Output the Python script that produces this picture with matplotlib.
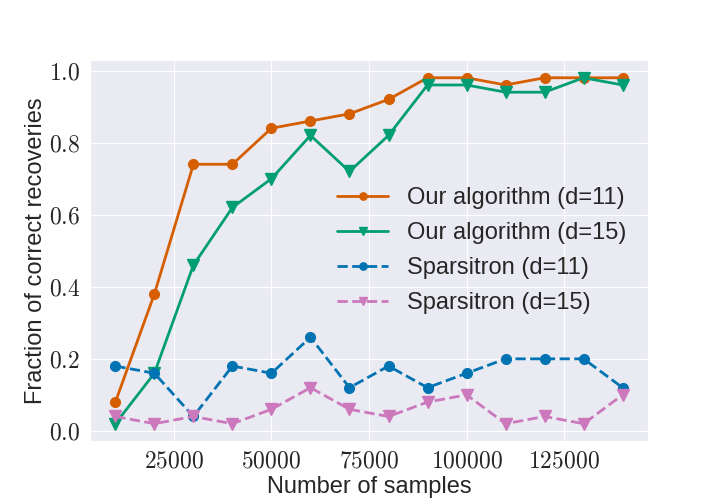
import matplotlib
matplotlib.use('Agg')
import matplotlib.pyplot as plt
import seaborn as sns
from matplotlib.ticker import FuncFormatter

sns.set_style('darkgrid')
plt.rcParams['font.family'] = ['Liberation Sans', 'DejaVu Sans']
plt.rcParams['mathtext.fontset'] = 'cm'

samples = [10000, 20000, 30000, 40000, 50000, 60000, 70000,
           80000, 90000, 100000, 110000, 120000, 130000, 140000]
ours_d11 = [0.08, 0.38, 0.74, 0.74, 0.84, 0.86, 0.88, 0.92, 0.98, 0.98, 0.96, 0.98, 0.98, 0.98]
ours_d15 = [0.02, 0.16, 0.46, 0.62, 0.70, 0.82, 0.72, 0.82, 0.96, 0.96, 0.94, 0.94, 0.98, 0.96]
sparsi_d11 = [0.18, 0.16, 0.04, 0.18, 0.16, 0.26, 0.12, 0.18, 0.12, 0.16, 0.20, 0.20, 0.20, 0.12]
sparsi_d15 = [0.04, 0.02, 0.04, 0.02, 0.06, 0.12, 0.06, 0.04, 0.08, 0.10, 0.02, 0.04, 0.02, 0.10]

pal = sns.color_palette('colorblind')

fig, ax = plt.subplots(figsize=(7.2, 5.04), dpi=100)
fig.subplots_adjust(bottom=0.125)
ax.plot(samples, ours_d11, '-o', color=pal[3], lw=2, ms=7, label='Our algorithm (d=11)')
ax.plot(samples, ours_d15, '-v', color=pal[2], lw=2, ms=8, label='Our algorithm (d=15)')
ax.plot(samples, sparsi_d11, '--o', color=pal[0], lw=2, ms=7, label='Sparsitron (d=11)')
ax.plot(samples, sparsi_d15, '--v', color=pal[4], lw=2, ms=8, label='Sparsitron (d=15)')

ax.set_xticks([25000, 50000, 75000, 100000, 125000])
ax.set_yticks([0.0, 0.2, 0.4, 0.6, 0.8, 1.0])
ax.xaxis.set_major_formatter(FuncFormatter(lambda v, p: r'$%d$' % v))
ax.yaxis.set_major_formatter(FuncFormatter(lambda v, p: r'$%.1f$' % v))
ax.tick_params(labelsize=17)

ax.set_xlabel('Number of samples', fontsize=17, labelpad=2)
ax.set_ylabel('Fraction of correct recoveries', fontsize=17, labelpad=1)
ax.legend(loc='center right', fontsize=17, frameon=False, markerscale=0.75,
          handlelength=2.2, labelspacing=0.55, borderaxespad=0.5)

fig.savefig('out.png', dpi=100)
